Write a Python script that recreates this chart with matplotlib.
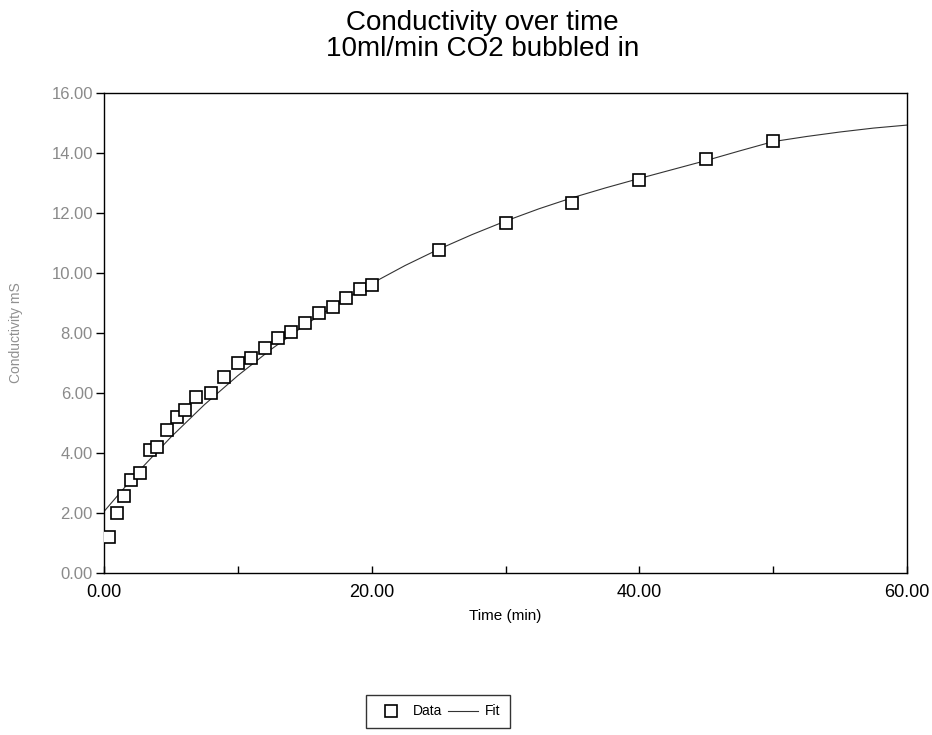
import matplotlib.pyplot as plt
from matplotlib.ticker import MultipleLocator, FormatStrFormatter

# measured points (time in min, conductivity in mS)
time_data = [0.35, 0.95, 1.5, 2.05, 2.7, 3.45, 3.95, 4.7, 5.45, 6.05, 6.9,
             8.0, 9.0, 10.0, 11.0, 12.0, 13.0, 14.0, 15.0, 16.1, 17.1, 18.1,
             19.1, 20.0, 25.0, 30.0, 35.0, 40.0, 45.0, 50.0]
cond_data = [1.19, 1.99, 2.57, 3.1, 3.32, 4.1, 4.21, 4.77, 5.21, 5.43, 5.88,
             6.01, 6.52, 6.99, 7.16, 7.49, 7.82, 8.04, 8.32, 8.66, 8.88, 9.16,
             9.46, 9.6, 10.77, 11.66, 12.32, 13.1, 13.79, 14.41]

# fit curve
time_fit = [0, 2.5, 5, 7.5, 10, 12.5, 15, 17.5, 20, 22.5, 25, 27.5, 30, 32.5,
            35, 37.5, 40, 42.5, 45, 47.5, 50, 52.5, 55, 57.5, 60]
cond_fit = [2.05, 3.35, 4.53, 5.61, 6.58, 7.46, 8.26, 8.99, 9.65, 10.25, 10.79,
            11.28, 11.73, 12.14, 12.51, 12.84, 13.15, 13.45, 13.75, 14.07,
            14.38, 14.55, 14.7, 14.83, 14.93]

plt.rcParams['font.family'] = ['Liberation Sans', 'DejaVu Sans']

fig = plt.figure(figsize=(9.32, 7.35), dpi=100)
ax = fig.add_axes([0.1116, 0.2204, 0.8616, 0.6531])

ax.plot(time_data, cond_data, linestyle='none', marker='s', markersize=8,
        markerfacecolor='white', markeredgecolor='black', markeredgewidth=1.2,
        label='Data', zorder=3)
ax.plot(time_fit, cond_fit, color='#333333', linewidth=0.8, label='Fit')

ax.set_xlim(0, 60)
ax.set_ylim(0, 16)
ax.xaxis.set_major_locator(MultipleLocator(20))
ax.xaxis.set_minor_locator(MultipleLocator(10))
ax.yaxis.set_major_locator(MultipleLocator(2))
ax.xaxis.set_major_formatter(FormatStrFormatter('%.2f'))
ax.yaxis.set_major_formatter(FormatStrFormatter('%.2f'))

ax.tick_params(axis='x', which='both', direction='in', length=5, width=1,
               labelsize=13, pad=8, colors='black')
ax.tick_params(axis='y', direction='out', length=6, width=1,
               labelsize=12, labelcolor='#8a8a8a', pad=2)
for s in ax.spines.values():
    s.set_color('black')
    s.set_linewidth(1.0)

ax.set_xlabel('Time (min)', fontsize=11, labelpad=6)
ax.set_ylabel('Conductivity mS', fontsize=10, color='#909090', labelpad=20)

fig.text(0.518, 0.951, 'Conductivity over time\n10ml/min CO2 bubbled in',
         ha='center', va='center', fontsize=20, linespacing=1.0)

fig.legend(loc='center', bbox_to_anchor=(0.47, 0.032), ncol=2, fontsize=10,
           frameon=True, fancybox=False, edgecolor='black', handlelength=2.2,
           columnspacing=0.4, handletextpad=0.5, borderpad=0.7,
           borderaxespad=0.2)

plt.savefig('out.png', dpi=100)
